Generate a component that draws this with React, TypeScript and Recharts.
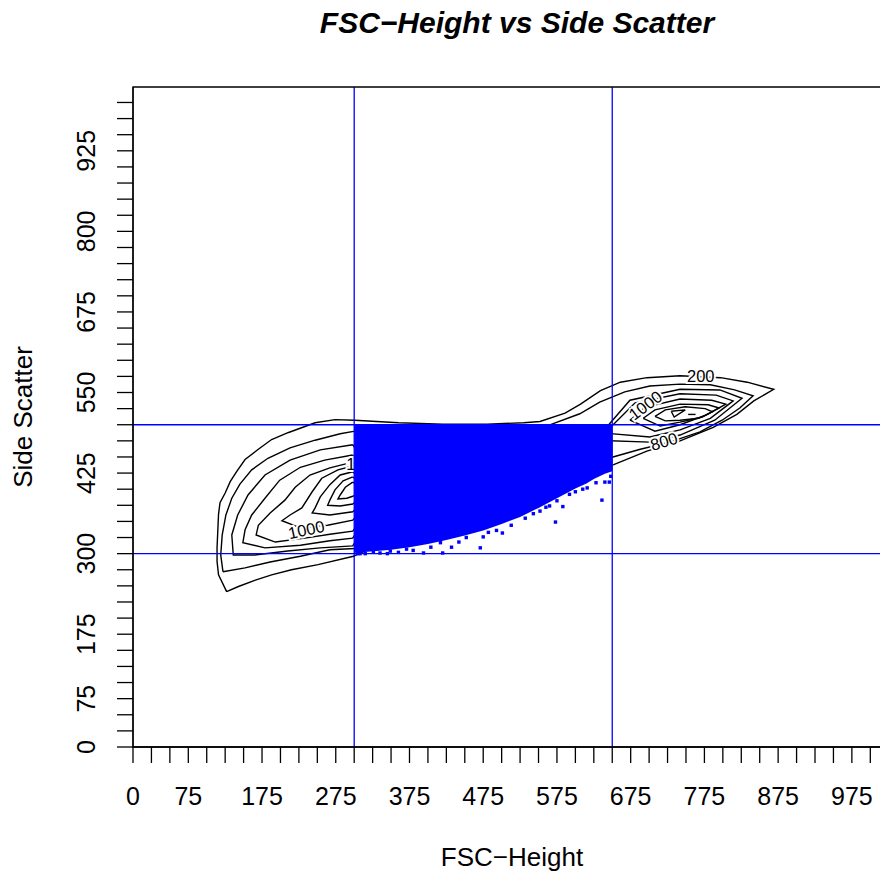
import React from "react"
import {
  Area,
  ComposedChart,
  Line,
  ReferenceArea,
  ReferenceLine,
  Scatter,
  XAxis,
  YAxis,
} from "recharts"

type Pt = [number, number]

const FONT = '"Liberation Sans", Arial, Helvetica, sans-serif'

// axis ticks (every 25) and the subset that carries a label
const xTicks = [0, 25, 50, 75, 100, 125, 150, 175, 200, 225, 250, 275, 300, 325, 350, 375, 400, 425, 450, 475, 500, 525, 550, 575, 600, 625, 650, 675, 700, 725, 750, 775, 800, 825, 850, 875, 900, 925, 950, 975, 1000]
const xTickLabels = [0, 75, 175, 275, 375, 475, 575, 675, 775, 875, 975]
const yTicks = [0, 25, 50, 75, 100, 125, 150, 175, 200, 225, 250, 275, 300, 325, 350, 375, 400, 425, 450, 475, 500, 525, 550, 575, 600, 625, 650, 675, 700, 725, 750, 775, 800, 825, 850, 875, 900, 925, 950, 975, 1000]
const yTickLabels = [0, 75, 175, 300, 425, 550, 675, 800, 925]

// rectangle gate
const gateX = [300, 650]
const gateY = [300, 500]

// density contours (FSC, SSC)
const contourOuter: Pt[] = [[127, 241], [116, 267], [114, 288], [114, 309], [115, 335], [116, 361], [118, 379], [125, 394], [132, 412], [141, 428], [152, 446], [170, 462], [188, 477], [211, 488], [247, 503], [274, 508], [301, 507], [360, 503], [420, 501], [480, 501], [530, 503], [552, 505], [586, 518], [607, 532], [634, 553], [661, 566], [697, 573], [742, 576], [797, 573], [833, 566], [869, 555], [842, 537], [819, 516], [787, 496], [742, 475], [697, 459], [652, 438], [498, 376], [389, 330], [330, 312], [299, 296], [251, 283], [215, 275], [188, 267], [166, 259], [143, 249], [127, 241]]
const contourSecond: Pt[] = [[122, 272], [119, 298], [121, 329], [126, 360], [134, 386], [145, 408], [161, 430], [183, 448], [213, 464], [247, 476], [281, 486], [301, 490], [430, 489], [559, 497], [606, 517], [633, 535], [667, 551], [701, 560], [742, 563], [783, 562], [816, 554], [841, 545], [823, 526], [799, 507], [769, 489], [728, 473], [688, 462], [651, 450], [498, 391], [362, 326], [301, 308], [267, 306], [227, 296], [186, 287], [152, 278], [122, 272]]
const leftL3: Pt[] = [[298, 469], [254, 461], [213, 445], [179, 422], [156, 391], [142, 360], [134, 329], [136, 298], [165, 298], [210, 304], [254, 309], [298, 312], [342, 391], [298, 469]]
const leftL4: Pt[] = [[298, 453], [260, 445], [227, 434], [199, 414], [179, 386], [161, 360], [152, 337], [149, 317], [179, 309], [227, 313], [267, 320], [298, 324], [335, 391], [298, 453]]
const leftL5: Pt[] = [[298, 442], [267, 433], [240, 422], [220, 403], [206, 383], [186, 363], [170, 344], [167, 329], [193, 318], [233, 324], [267, 330], [298, 335], [335, 391], [298, 442]]
const leftL6: Pt[] = [[298, 436], [278, 430], [256, 417], [243, 396], [229, 371], [213, 360], [202, 351], [227, 340], [264, 344], [298, 352], [328, 391], [298, 436]]
const leftL7: Pt[] = [[298, 427], [281, 422], [267, 407], [254, 388], [247, 371], [243, 363], [267, 360], [298, 365], [328, 396], [298, 427]]
const leftL8: Pt[] = [[298, 419], [285, 413], [274, 399], [267, 383], [264, 375], [281, 374], [298, 377], [321, 399], [298, 419]]
const leftL9: Pt[] = [[298, 411], [288, 403], [281, 391], [278, 385], [290, 386], [298, 389], [315, 399], [298, 411]]
const rightR3: Pt[] = [[627, 476], [674, 538], [742, 555], [796, 554], [826, 541], [789, 507], [742, 484], [701, 473], [627, 476]]
const rightR4: Pt[] = [[640, 487], [681, 534], [742, 548], [791, 546], [814, 537], [783, 510], [742, 492], [701, 481], [640, 487]]
const rightR5: Pt[] = [[674, 507], [694, 527], [742, 540], [785, 538], [804, 532], [777, 515], [742, 500], [708, 490], [674, 507]]
const rightR6: Pt[] = [[692, 510], [708, 523], [742, 532], [780, 531], [795, 526], [772, 512], [742, 504], [715, 498], [692, 510]]
const rightR7: Pt[] = [[708, 513], [722, 523], [749, 528], [776, 525], [786, 520], [767, 510], [742, 507], [722, 506], [708, 513]]
const rightR8: Pt[] = [[730, 521], [749, 523], [734, 512], [730, 521]]
const rightPeak: Pt[] = [[753, 516], [763, 516]]

const contours = [contourOuter, contourSecond, leftL3, leftL4, leftL5, leftL6, leftL7, leftL8, leftL9, rightR3, rightR4, rightR5, rightR6, rightR7, rightR8, rightPeak]

const contourLabels = [
  { x: 770, y: 576, text: "200", angle: 0 },
  { x: 720, y: 474, text: "800", angle: -17 },
  { x: 695, y: 530, text: "1000", angle: -37 },
  { x: 235, y: 337, text: "1000", angle: -12 },
  { x: 314, y: 438, text: "1000", angle: 0 },
]

// gated events: dense cloud (lower edge per FSC) plus stray events near the edge
const gatedFsc = [300, 310, 330, 350, 375, 400, 425, 450, 475, 500, 525, 550, 575, 600, 615, 625, 640, 650]
const gatedSscLow = [301, 302, 304, 306, 310, 315, 321, 328, 336, 346, 357, 371, 386, 401, 409, 416, 424, 428]
const gatedSscHigh = 500
const strayEvents: Pt[] = [[636, 383], [573, 349], [583, 373], [565, 374], [543, 362], [513, 344], [501, 332], [493, 336], [475, 326], [471, 309], [442, 318], [432, 310], [420, 301], [404, 310], [394, 301], [646, 411], [640, 411], [616, 402], [600, 396], [592, 392], [575, 382], [552, 366], [532, 355], [482, 333], [452, 325], [417, 317], [371, 307], [349, 304], [326, 302], [308, 300], [305, 300], [315, 300], [335, 301], [345, 300], [360, 302], [380, 305], [648, 420], [628, 410], [610, 400], [560, 372]]

const gatedRows = gatedFsc.map((x, i) => ({ x, low: gatedSscLow[i], high: gatedSscHigh }))
const strayRows = strayEvents.map(([x, y]) => ({ x, y }))
const toRows = (pts: Pt[]) => pts.map(([x, y]) => ({ x, y }))

function XTick(props: any) {
  const { x, y, payload } = props
  if (!xTickLabels.includes(payload.value)) return <g />
  return (
    <text x={x} y={y + 40} textAnchor="middle" fontSize={25} fontFamily={FONT} fill="#000">
      {payload.value}
    </text>
  )
}

function YTick(props: any) {
  const { x, y, payload } = props
  if (!yTickLabels.includes(payload.value)) return <g />
  const bx = x - 20
  return (
    <text x={bx} y={y} textAnchor="middle" fontSize={25} fontFamily={FONT} fill="#000" transform={`rotate(-90 ${bx} ${y})`}>
      {payload.value}
    </text>
  )
}

function ContourLabel(props: any) {
  const { cx, cy, payload } = props
  return (
    <text
      x={cx}
      y={cy}
      dy="0.35em"
      textAnchor="middle"
      fontSize={16.5}
      fontFamily={FONT}
      fill="#000"
      stroke="#fff"
      strokeWidth={4}
      style={{ paintOrder: "stroke" }}
      transform={`rotate(${payload.angle} ${cx} ${cy})`}
    >
      {payload.text}
    </text>
  )
}

function Event(props: any) {
  const { cx, cy } = props
  return <rect x={cx - 1.7} y={cy - 1.7} width={3.4} height={3.4} fill="#0000ff" />
}

export default function App() {
  return (
    <div style={{ position: "fixed", left: 0, top: 0, width: 880, height: 876, overflow: "hidden", background: "#fff" }}>
      <ComposedChart width={900} height={876} margin={{ top: 87, right: 12, bottom: 69, left: 0 }}>
        <XAxis
          dataKey="x"
          type="number"
          domain={[0, 1024]}
          ticks={xTicks}
          interval={0}
          tickSize={16}
          height={60}
          tick={<XTick />}
          axisLine={{ stroke: "#000", strokeWidth: 1.3 }}
          tickLine={{ stroke: "#000", strokeWidth: 1.3 }}
          allowDataOverflow
        />
        <YAxis
          dataKey="y"
          type="number"
          domain={[0, 1024]}
          ticks={yTicks}
          interval={0}
          tickSize={16}
          width={133}
          tick={<YTick />}
          axisLine={{ stroke: "#000", strokeWidth: 1.3 }}
          tickLine={{ stroke: "#000", strokeWidth: 1.3 }}
          allowDataOverflow
        />
        {contours.map((c, i) => (
          <Line
            key={i}
            data={toRows(c)}
            dataKey="y"
            type="linear"
            stroke="#000"
            strokeWidth={1.4}
            dot={false}
            activeDot={false}
            isAnimationActive={false}
            zIndex={50}
          />
        ))}
        <Scatter data={contourLabels} dataKey="y" shape={<ContourLabel />} isAnimationActive={false} zIndex={60} />
        <Area
          data={gatedRows}
          dataKey={(d: any) => [d.low, d.high]}
          type="linear"
          stroke="none"
          fill="#0000ff"
          fillOpacity={1}
          isAnimationActive={false}
          zIndex={200}
        />
        <Scatter data={strayRows} dataKey="y" shape={<Event />} isAnimationActive={false} zIndex={210} />
        {gateX.map((v) => (
          <ReferenceLine key={"gx" + v} x={v} stroke="#0000ff" strokeWidth={1.3} zIndex={300} />
        ))}
        {gateY.map((v) => (
          <ReferenceLine key={"gy" + v} y={v} stroke="#0000ff" strokeWidth={1.3} zIndex={300} />
        ))}
        <ReferenceArea x1={0} x2={1024} y1={0} y2={1024} fill="none" stroke="#000" strokeWidth={1.3} zIndex={320} />
      </ComposedChart>
      <svg width={880} height={876} style={{ position: "absolute", left: 0, top: 0, pointerEvents: "none" }} fontFamily={FONT}>
        <text x={517} y={33} textAnchor="middle" fontSize={30} fontWeight="bold" fontStyle="italic" fill="#000">
          FSC−Height vs Side Scatter
        </text>
        <text x={512} y={866} textAnchor="middle" fontSize={26} fill="#000">
          FSC−Height
        </text>
        <text x={32} y={417} textAnchor="middle" fontSize={26} fill="#000" transform="rotate(-90 32 417)">
          Side Scatter
        </text>
      </svg>
    </div>
  )
}
